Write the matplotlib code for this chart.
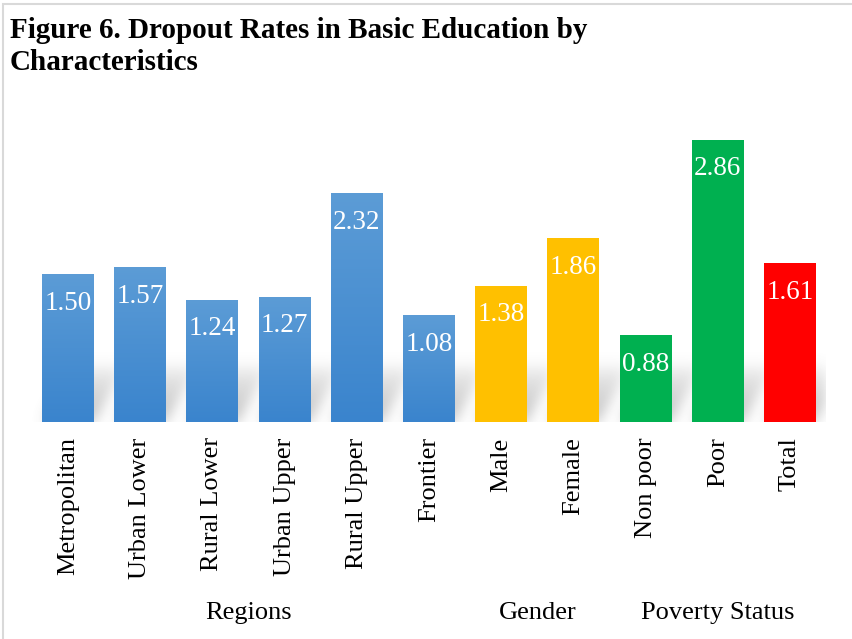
import numpy as np
import matplotlib.pyplot as plt
from matplotlib.patches import Rectangle
from matplotlib.colors import LinearSegmentedColormap
import matplotlib.transforms as mtransforms

plt.rcParams['font.family'] = ['Liberation Serif', 'DejaVu Serif']

categories = ["Metropolitan", "Urban Lower", "Rural Lower", "Urban Upper", "Rural Upper",
              "Frontier", "Male", "Female", "Non poor", "Poor", "Total"]
rates = [1.50, 1.57, 1.24, 1.27, 2.32, 1.08, 1.38, 1.86, 0.88, 2.86, 1.61]
groups = ["Regions"] * 6 + ["Gender"] * 2 + ["Poverty Status"] * 2 + ["Total"]
group_colors = {"Regions": None, "Gender": "#FFC000", "Poverty Status": "#00B050", "Total": "#FF0000"}
group_labels = [("Regions", 2.5), ("Gender", 6.5), ("Poverty Status", 9.0)]
title_lines = ["Figure 6. Dropout Rates in Basic Education by", "Characteristics"]

W, H = 852, 639
fig = plt.figure(figsize=(W / 100, H / 100), dpi=100)
fig.patch.set_facecolor("white")

# light frame around the chart area
fig.patches.append(Rectangle((3 / W, -0.1), 1.2, (H - 4) / H + 0.1, transform=fig.transFigure,
                             fill=False, edgecolor="#D9D9D9", linewidth=1.5))

for i, line in enumerate(title_lines):
    fig.text(10 / W, 1 - (31 + 32 * i) / H, line, fontsize=21, fontweight="bold",
             ha="left", va="center")

ax = fig.add_axes([32 / W, 217 / H, 794 / W, 316 / H])
ax.set_xlim(-0.5, 10.5)
ax.set_ylim(0, 3.2)
for s in ax.spines.values():
    s.set_visible(False)
ax.set_yticks([])

x = np.arange(len(categories))
width = 0.72

# soft cast shadow behind the bars
nx, ny = 1100, 100
xs = np.linspace(-0.5, 10.5, nx)
ys = np.linspace(0, 1.0, ny)
X, Y = np.meshgrid(xs, ys)
shade = np.zeros_like(X)
sh_h, sh_dx = 0.55, 0.42
for xi in x:
    shift = sh_dx * Y / sh_h
    inside = (X >= xi - width / 2 + shift) & (X <= xi + width / 2 + shift) & (Y <= sh_h)
    shade = np.maximum(shade, inside * (1 - 0.7 * Y / sh_h))
k = np.exp(-0.5 * (np.arange(-24, 25) / 8.0) ** 2)
k /= k.sum()
shade = np.apply_along_axis(lambda r: np.convolve(r, k, mode="same"), 1, shade)
shade = np.apply_along_axis(lambda c: np.convolve(c, k, mode="same"), 0, shade)
rgba = np.zeros((ny, nx, 4))
rgba[..., :3] = 0.45
rgba[..., 3] = 0.45 * shade
ax.imshow(rgba, extent=(-0.5, 10.5, 0, 1.0), origin="lower", aspect="auto",
          interpolation="bilinear", zorder=1)

blue_grad = LinearSegmentedColormap.from_list("bluegrad", ["#3A84CD", "#5C9CD6"])
bars = ax.bar(x, rates, width=width, zorder=2, linewidth=0)
for b, g in zip(bars, groups):
    if group_colors[g] is None:
        b.set_facecolor("none")
        x0, h = b.get_x(), b.get_height()
        grad = np.linspace(0, 1, 256).reshape(-1, 1)
        im = ax.imshow(grad, extent=(x0, x0 + b.get_width(), 0, h), origin="lower",
                       aspect="auto", cmap=blue_grad, zorder=2)
        im.set_clip_path(b)
    else:
        b.set_facecolor(group_colors[g])

ax.set_xlim(-0.5, 10.5)
ax.set_ylim(0, 3.2)

for xi, v in zip(x, rates):
    ax.annotate(f"{v:.2f}", (xi, v), xytext=(0, -21), textcoords="offset points",
                ha="center", va="center", color="white", fontsize=19.5, zorder=3)

ax.set_xticks(x)
ax.set_xticklabels(categories, rotation=90, fontsize=19, va="top", ha="center")
ax.tick_params(axis="x", length=0, pad=11)

trans = mtransforms.blended_transform_factory(ax.transData, fig.transFigure)
for name, xc in group_labels:
    ax.text(xc, 1 - 613 / H, name, transform=trans, ha="center", va="center", fontsize=19)

fig.savefig("out.png", dpi=100)
